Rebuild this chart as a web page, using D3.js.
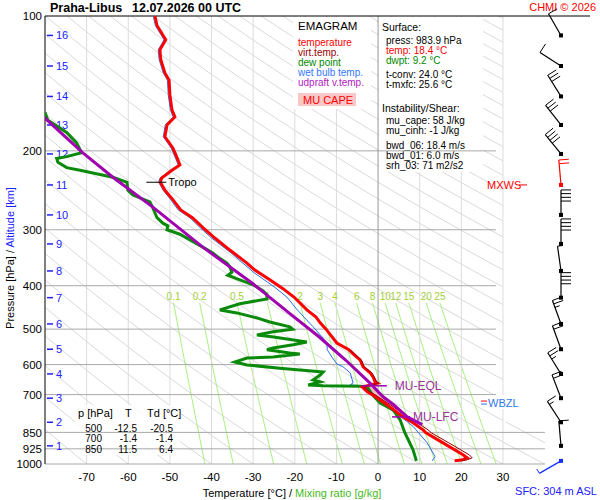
<!DOCTYPE html>
<html>
<head>
<meta charset="utf-8">
<script src="https://cdn.jsdelivr.net/npm/d3@7"></script>
<style>
  body { margin: 0; background: #fff; }
  svg { font-family: Arial, "Liberation Sans", sans-serif; }
</style>
</head>
<body>
<div id="chart"></div>
<script>
// ---- data ----
var pressureTicks = [100, 200, 300, 400, 500, 600, 700, 850, 925, 1000];
var tempTicks = [-70, -60, -50, -40, -30, -20, -10, 0, 10, 20, 30];
var mixRatios = [0.1, 0.2, 0.5, 1, 2, 3, 4, 6, 8, 10, 12, 15, 20, 25];

// altitude marks [km] and the pressure where they sit
var altKm = [1, 2, 3, 4, 5, 6, 7, 8, 9, 10, 11, 12, 13, 14, 15, 16];
var altP = [911, 807, 713, 629.5, 554.4, 486.8, 425.3, 370.8, 322.7, 278, 238.3, 203.2, 175.1, 151.2, 129.3, 110.5];

// [pressure hPa, value °C]
var tempData = [[100,-53.6],[105,-53.1],[113,-51.0],[119,-52.4],[125,-52.2],[134,-51.2],[139,-50.2],[150,-50.0],
  [162,-49.5],[168,-48.8],[175,-50.7],[186,-51.2],[197,-49.3],[204,-48.6],[215,-47.6],[221,-49.5],[230,-52.0],
  [235,-52.3],[245,-51.2],[257,-49.3],[271,-47.4],[282,-44.6],[297,-42.0],[313,-39.2],[333,-35.6],[356,-31.5],
  [369,-29.6],[388,-26.0],[405,-23.0],[424,-20.2],[453,-17.1],[470,-14.9],[484,-13.9],[500,-12.5],[507,-12.0],
  [537,-9.9],[556,-7.0],[586,-4.3],[607,-3.6],[626,-1.9],[639,-1.2],[656,-0.7],[660,-0.2],[673,-3.8],[690,-2.6],
  [700,-1.4],[738,2.2],[785,6.0],[809,8.4],[839,10.8],[852,11.5],[897,15.6],[954,20.4],[969,21.4],[980,20.0],[984,18.4]];

var virtData = [[556,-6.8],[586,-4.0],[607,-3.3],[626,-1.5],[639,-0.9],[656,-0.3],[660,0.2],[673,-3.3],[690,-2.0],
  [700,-0.8],[738,3.0],[785,7.0],[809,9.5],[839,12.0],[852,12.8],[897,17.0],[954,21.9],[969,22.6],[980,21.2],[984,20.0]];

var dewData = [[164,-80.0],[171,-79.3],[182,-74.8],[192,-72.4],[202,-71.2],[206,-74.8],[208,-77.2],[212,-76.9],
  [218,-74.8],[221,-71.6],[224,-68.5],[229,-63.7],[235,-60.3],[245,-60.1],[251,-58.9],[260,-54.8],[268,-54.1],
  [282,-53.1],[290,-51.7],[294,-50.5],[300,-50.7],[307,-47.6],[316,-45.2],[328,-42.1],[338,-39.7],[345,-38.5],
  [356,-36.3],[363,-35.6],[373,-35.1],[379,-36.1],[388,-33.2],[398,-30.0],[411,-27.6],[419,-26.7],[428,-26.7],
  [439,-33.2],[453,-38.0],[460,-33.9],[472,-29.1],[482,-26.0],[494,-21.2],[500,-20.5],[507,-25.2],[515,-29.1],
  [520,-25.5],[534,-17.1],[542,-20.4],[551,-25.2],[556,-26.7],[565,-21.2],[568,-18.8],[577,-25.2],[580,-31.5],
  [592,-34.4],[601,-31.5],[611,-23.6],[617,-18.8],[623,-13.2],[633,-13.9],[649,-15.6],[656,-13.9],[666,-16.8],
  [669,-13.2],[671,-4.3],[673,-2.6],[700,-1.4],[731,0.5],[757,3.6],[797,5.3],[850,6.4],[930,8.4],[984,9.2]];

var wetData = [[100,-54.0],[105,-53.5],[113,-51.4],[119,-52.8],[125,-52.6],[134,-51.6],[139,-50.6],[150,-50.4],
  [162,-49.9],[168,-49.2],[175,-51.1],[186,-51.6],[197,-49.7],[204,-49.0],[215,-48.0],[221,-49.9],[230,-52.4],
  [235,-52.7],[245,-51.6],[257,-49.8],[271,-48.0],[282,-45.2],[297,-42.7],[313,-40.0],[338,-35.3],[356,-32.5],
  [374,-29.8],[402,-25.0],[424,-21.9],[453,-19.4],[494,-15.6],[520,-13.5],[537,-12.3],[556,-12.2],[577,-11.1],
  [598,-9.9],[607,-8.4],[626,-6.7],[659,-6.0],[666,-6.7],[669,-3.6],[696,-1.9],[731,0.5],[769,4.3],[824,8.4],
  [897,11.8],[963,13.7],[984,13.0]];

var parcelData = [[160,-82.5],[169,-80.0],[202,-70.9],[229,-63.7],[267,-54.1],[328,-42.1],[395,-30.2],[460,-21.4],
  [520,-14.2],[586,-7.8],[659,-2.0],[708,1.2],[738,3.8],[785,7.0],[817,10.6]];

// wind: surface + each km
var windP = [984, 911, 807, 713, 629.5, 554.4, 486.8, 425.3, 370.8, 322.7, 278, 238.3, 203.2, 175.1, 151.2, 129.3, 110.5];
var windDir = [240, 355, 327, 339, 328, 340, 340, 360, 352, 360, 360, 355, 321, 322, 328, 303, 330];
var windSpd = [3, 10, 15, 20, 25, 20, 25, 40, 5, 40, 40, 20, 40, 30, 30, 10, 10];
var mxwsIndex = 11;

var tropoP = 235, eqlP = 669, lfcP = 785, wbzlP = 731;

var tableHead = ["p [hPa]", "T", "Td [°C]"];
var tableRows = [["500", "-12.5", "-20.5"], ["700", "-1.4", "-1.4"], ["850", "11.5", "6.4"]];

var legendItems = [["temperature", "#ff0000"], ["virt.temp.", "#990000"], ["dew point", "#008800"],
  ["wet bulb temp.", "#3377ff"], ["udpraft v.temp.", "#b020c0"]];

var infoSurface = [["press: 983.9 hPa", "#000"], ["temp: 18.4 °C", "#ff0000"], ["dwpt: 9.2 °C", "#008800"]];
var infoConv = ["t-conv: 24.0 °C", "t-mxfc: 25.6 °C"];
var infoInst = ["mu_cape: 58 J/kg", "mu_cinh: -1 J/kg"];
var infoShear = ["bwd_06: 18.4 m/s", "bwd_01: 6.0 m/s", "srh_03: 71 m2/s2"];

// ---- chart ----
var width = 600, height = 500;
var svg = d3.select("#chart").append("svg")
    .attr("width", width)
    .attr("height", height);

var x = d3.scaleLinear().domain([-80, 40]).range([45, 544.6]);
var y = d3.scaleLog().domain([100, 1000]).range([16, 464]);

var line = d3.line().x(d => x(d[1])).y(d => y(d[0]));

var defs = svg.append("defs");
defs.append("clipPath").attr("id", "plotClip")
    .append("rect").attr("x", 45).attr("y", 16).attr("width", 500).attr("height", 448);
defs.append("clipPath").attr("id", "gridClip")
    .append("path").attr("d", "M45,16H503V422H545V464H45Z");

// interpolation in log p along a profile
function interp(data, p) {
  for (var i = 0; i < data.length - 1; i++) {
    var a = data[i], b = data[i + 1];
    if (p >= a[0] && p <= b[0]) {
      var t = (Math.log(p) - Math.log(a[0])) / (Math.log(b[0]) - Math.log(a[0]));
      return a[1] + t * (b[1] - a[1]);
    }
  }
  return null;
}

// dry adiabats (background)
var grid = svg.append("g").attr("clip-path", "url(#gridClip)");
var pLevels = d3.range(0, 61).map(i => 100 * Math.pow(10, i / 60));
d3.range(-80, 330, 10).forEach(function (th) {
  var pts = pLevels.map(p => [p, (th + 273.15) * Math.pow(p / 1000, 0.2857) - 273.15]);
  grid.append("path").attr("d", line(pts))
      .attr("fill", "none").attr("stroke", "#d9d9d9").attr("stroke-width", 1);
});

// vertical temperature grid
svg.append("g").selectAll("line").data(tempTicks.filter(t => t !== 0)).join("line")
    .attr("x1", d => x(d)).attr("x2", d => x(d))
    .attr("y1", 16).attr("y2", 464)
    .attr("stroke", "#dcdcdc").attr("stroke-width", 1);

// mixing ratio lines
var mixLevels = d3.range(0, 21).map(i => 437 * Math.pow(1000 / 437, i / 20));
function satT(w, p) {
  var e = w * p / (622 + w);
  var l = Math.log(e / 6.112);
  return 243.5 * l / (17.67 - l);
}
mixRatios.forEach(function (w) {
  grid.append("path").attr("d", line(mixLevels.map(p => [p, satT(w, p)])))
      .attr("fill", "none").attr("stroke", "#a8f080").attr("stroke-width", 1);
});
svg.append("g").selectAll("text").data(mixRatios).join("text")
    .attr("x", d => x(satT(d, 437)))
    .attr("y", 300)
    .attr("text-anchor", "middle")
    .attr("font-size", 10)
    .attr("fill", "#a2cf3a")
    .text(d => d);

// legend box
svg.append("rect").attr("x", 293).attr("y", 17).attr("width", 78).attr("height", 92).attr("fill", "#fff");
svg.append("text").attr("x", 298).attr("y", 30).attr("font-size", 11.5).text("EMAGRAM");
svg.append("g").selectAll("text").data(legendItems).join("text")
    .attr("x", 298).attr("y", (d, i) => 45.5 + i * 10)
    .attr("font-size", 10).attr("fill", d => d[1]).text(d => d[0]);
svg.append("rect").attr("x", 298).attr("y", 93).attr("width", 58).attr("height", 13).attr("fill", "#f8c8c8");
svg.append("text").attr("x", 303).attr("y", 104).attr("font-size", 11).attr("fill", "#ff0000").text("MU CAPE");

// surface / instability box
svg.append("rect").attr("x", 379).attr("y", 17).attr("width", 104).attr("height", 155).attr("fill", "#fff");
var info = svg.append("g").attr("font-size", 10);
info.append("text").attr("x", 382).attr("y", 31).attr("font-size", 10.5).text("Surface:");
infoSurface.forEach((d, i) => info.append("text").attr("x", 386).attr("y", 44 + i * 10).attr("fill", d[1]).text(d[0]));
infoConv.forEach((d, i) => info.append("text").attr("x", 386).attr("y", 78 + i * 10).text(d));
info.append("text").attr("x", 382).attr("y", 112).attr("font-size", 10.5).text("Instability/Shear:");
infoInst.forEach((d, i) => info.append("text").attr("x", 386).attr("y", 124 + i * 10).text(d));
infoShear.forEach((d, i) => info.append("text").attr("x", 386).attr("y", 149 + i * 10).text(d));

// table box (half transparent)
svg.append("rect").attr("x", 75).attr("y", 405).attr("width", 105).attr("height", 50)
    .attr("fill", "#fff").attr("fill-opacity", 0.8);

// horizontal pressure lines and 0 °C line
svg.append("g").selectAll("line").data(pressureTicks.filter(p => p > 100)).join("line")
    .attr("x1", 45).attr("x2", d => d >= 850 ? 545 : 496)
    .attr("y1", d => y(d)).attr("y2", d => y(d))
    .attr("stroke", "#a8a8a8").attr("stroke-width", 1);
svg.append("line").attr("x1", x(0)).attr("x2", x(0)).attr("y1", 16).attr("y2", 464)
    .attr("stroke", "#999").attr("stroke-width", 1);

// table text
var tbl = svg.append("g").attr("font-size", 10);
tbl.append("text").attr("x", 78).attr("y", 417).attr("font-size", 11).text(tableHead[0]);
tbl.append("text").attr("x", 125).attr("y", 417).attr("font-size", 11).text(tableHead[1]);
tbl.append("text").attr("x", 147).attr("y", 417).attr("font-size", 11).text(tableHead[2]);
tableRows.forEach(function (r, i) {
  var ty = 432 + i * 10.3;
  tbl.append("text").attr("x", 102).attr("y", ty).attr("text-anchor", "end").text(r[0]);
  tbl.append("text").attr("x", 137).attr("y", ty).attr("text-anchor", "end").text(r[1]);
  tbl.append("text").attr("x", 173).attr("y", ty).attr("text-anchor", "end").text(r[2]);
});

// axes frame
svg.append("line").attr("x1", 45).attr("x2", 590).attr("y1", 16).attr("y2", 16).attr("stroke", "#000");
svg.append("line").attr("x1", 45).attr("x2", 45).attr("y1", 16).attr("y2", 464).attr("stroke", "#000");

// pressure labels
svg.append("g").selectAll("text").data(pressureTicks).join("text")
    .attr("x", 42).attr("y", d => y(d)).attr("dy", "0.36em")
    .attr("text-anchor", "end").attr("font-size", 11.5).text(d => d);
// temperature labels
svg.append("g").selectAll("text").data(tempTicks).join("text")
    .attr("x", d => x(d)).attr("y", 481)
    .attr("text-anchor", "middle").attr("font-size", 11.5).text(d => d);

// altitude ticks
var alt = svg.append("g").attr("fill", "#2020ff");
alt.selectAll("line").data(altP).join("line")
    .attr("x1", 47).attr("x2", 53).attr("y1", d => y(d)).attr("y2", d => y(d))
    .attr("stroke", "#2020ff").attr("stroke-width", 1.5);
alt.selectAll("text").data(altKm).join("text")
    .attr("x", 56).attr("y", (d, i) => y(altP[i])).attr("dy", "0.36em")
    .attr("font-size", 11).text(d => d);

// axis titles
var yTitle = svg.append("text").attr("transform", "translate(14,258) rotate(-90)")
    .attr("text-anchor", "middle").attr("font-size", 11);
yTitle.append("tspan").text("Pressure [hPa]  /  ");
yTitle.append("tspan").attr("fill", "#2020ff").text("Altitude [km]");
var xTitle = svg.append("text").attr("x", 292).attr("y", 497)
    .attr("text-anchor", "middle").attr("font-size", 11);
xTitle.append("tspan").text("Temperature [°C]  /  ");
xTitle.append("tspan").attr("fill", "#44bb22").text("Mixing ratio [g/kg]");

// title
svg.append("text").attr("x", 50).attr("y", 12).attr("font-size", 12.5).attr("font-weight", "bold").text("Praha-Libus");
svg.append("text").attr("x", 132).attr("y", 12).attr("font-size", 12.5).attr("font-weight", "bold").text("12.07.2026 00 UTC");
svg.append("text").attr("x", 596).attr("y", 11).attr("text-anchor", "end").attr("font-size", 11).attr("fill", "#ff0000").text("CHMI © 2026");

// ---- profiles ----
var prof = svg.append("g").attr("clip-path", "url(#plotClip)");

// MU CAPE area between parcel and virtual temperature
var capeTop = 664;
var parcelPart = [[capeTop, interp(parcelData, capeTop)]]
    .concat(parcelData.filter(d => d[0] > capeTop && d[0] < lfcP))
    .concat([[lfcP, interp(parcelData, lfcP)]]);
var virtPart = [[lfcP, interp(virtData, lfcP)]]
    .concat(virtData.filter(d => d[0] > capeTop && d[0] < lfcP).reverse())
    .concat([[capeTop, interp(virtData, capeTop)]]);
prof.append("path").attr("d", line(parcelPart.concat(virtPart)) + "Z")
    .attr("fill", "#f4b4b4").attr("fill-opacity", 0.85).attr("stroke", "none");

prof.append("path").attr("d", line(wetData)).attr("fill", "none").attr("stroke", "#2a70e8").attr("stroke-width", 1);
prof.append("path").attr("d", line(dewData)).attr("fill", "none").attr("stroke", "#0a8a0a").attr("stroke-width", 3);
prof.append("path").attr("d", line(tempData)).attr("fill", "none").attr("stroke", "#ff0000").attr("stroke-width", 3);
prof.append("path").attr("d", line(virtData)).attr("fill", "none").attr("stroke", "#990000").attr("stroke-width", 1);
prof.append("path").attr("d", line(parcelData)).attr("fill", "none").attr("stroke", "#a000b0").attr("stroke-width", 3);

// tropopause
var tropoX = x(interp(tempData, tropoP));
svg.append("line").attr("x1", tropoX - 14).attr("x2", tropoX + 6).attr("y1", y(tropoP)).attr("y2", y(tropoP)).attr("stroke", "#000");
svg.append("text").attr("x", tropoX + 8).attr("y", y(tropoP) + 4).attr("font-size", 11).text("Tropo");

// EQL / LFC
var eqlX = x(interp(tempData, eqlP));
svg.append("line").attr("x1", eqlX - 5).attr("x2", eqlX + 20).attr("y1", y(eqlP)).attr("y2", y(eqlP))
    .attr("stroke", "#a000b0").attr("stroke-width", 1.5);
svg.append("text").attr("x", eqlX + 28).attr("y", y(eqlP) + 4.5).attr("font-size", 12).attr("fill", "#993399").text("MU-EQL");
var lfcX = x(interp(tempData, lfcP));
svg.append("line").attr("x1", lfcX - 11).attr("x2", lfcX + 7).attr("y1", y(lfcP)).attr("y2", y(lfcP))
    .attr("stroke", "#a000b0").attr("stroke-width", 1.5);
svg.append("text").attr("x", lfcX + 10).attr("y", y(lfcP) + 4.5).attr("font-size", 12).attr("fill", "#993399").text("MU-LFC");

// WBZL
var wy = y(wbzlP);
svg.append("rect").attr("x", 486).attr("y", wy - 8).attr("width", 36).attr("height", 14).attr("fill", "#fff");
svg.append("line").attr("x1", 481).attr("x2", 487).attr("y1", wy - 2).attr("y2", wy - 2).attr("stroke", "#ff0000");
svg.append("line").attr("x1", 481).attr("x2", 487).attr("y1", wy + 1).attr("y2", wy + 1).attr("stroke", "#2a70e8");
svg.append("text").attr("x", 488).attr("y", wy + 4).attr("font-size", 11).attr("fill", "#3377ee").text("WBZL");

// MXWS
var my = y(windP[mxwsIndex]);
svg.append("text").attr("x", 487).attr("y", my + 4).attr("font-size", 11).attr("fill", "#ff0000").text("MXWS");
svg.append("line").attr("x1", 519).attr("x2", 527).attr("y1", my).attr("y2", my).attr("stroke", "#ff0000");

svg.append("text").attr("x", 597).attr("y", 495).attr("text-anchor", "end").attr("font-size", 11).attr("fill", "#2020ff").text("SFC: 304 m ASL");

// ---- wind barbs ----
var barbs = svg.append("g");
function drawBarb(p, dir, spd, color) {
  var bx = 561, by = y(p);
  var rad = dir * Math.PI / 180;
  var ux = Math.sin(rad), uy = -Math.cos(rad);
  var L = 25;
  var ex = bx + ux * L, ey = by + uy * L;
  var px = -uy, py = ux;
  barbs.append("line").attr("x1", bx).attr("y1", by).attr("x2", ex).attr("y2", ey)
      .attr("stroke", color).attr("stroke-width", 1.2);
  barbs.append("rect").attr("x", bx - 2).attr("y", by - 2).attr("width", 4).attr("height", 4).attr("fill", color);
  var s = Math.round(spd / 5) * 5, pos = 0;
  while (s >= 50) {
    var ax = ex - ux * pos, ay = ey - uy * pos;
    barbs.append("path")
        .attr("d", "M" + ax + "," + ay + "L" + (ax + px * 10) + "," + (ay + py * 10) + "L" + (ax - ux * 5) + "," + (ay - uy * 5) + "Z")
        .attr("fill", color);
    pos += 6.5; s -= 50;
  }
  while (s >= 10) {
    var cx = ex - ux * pos, cy = ey - uy * pos;
    barbs.append("line").attr("x1", cx).attr("y1", cy).attr("x2", cx + px * 10).attr("y2", cy + py * 10)
        .attr("stroke", color).attr("stroke-width", 1);
    pos += 3.7; s -= 10;
  }
  if (s >= 5) {
    var hx = ex - ux * pos, hy = ey - uy * pos;
    barbs.append("line").attr("x1", hx).attr("y1", hy).attr("x2", hx + px * 5).attr("y2", hy + py * 5)
        .attr("stroke", color).attr("stroke-width", 1);
  }
}
windP.forEach(function (p, i) {
  var c = i === 0 ? "#1030ff" : (i === mxwsIndex ? "#ff0000" : "#000");
  drawBarb(p, windDir[i], windSpd[i], c);
});
</script>
</body>
</html>
